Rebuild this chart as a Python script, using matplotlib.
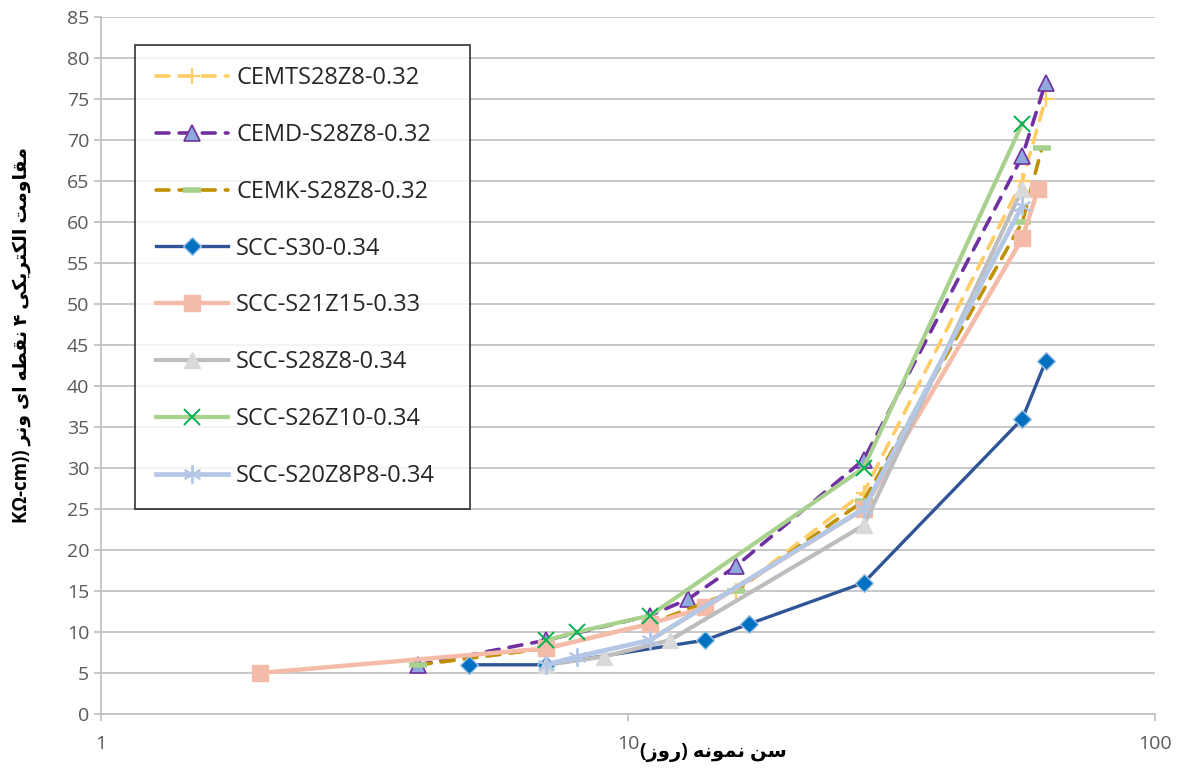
import matplotlib.pyplot as plt

# data (age in days, resistivity in KOhm-cm)
cemts_x = [4, 7, 11, 16, 28, 56, 62]
cemts_y = [6, 8, 11, 15, 27, 65, 75]
cemd_x = [4, 7, 11, 13, 16, 28, 56, 62]
cemd_y = [6, 9, 12, 14, 18, 31, 68, 77]
cemk_x = [4, 7, 11, 16, 28, 56, 61]
cemk_y = [6, 8, 11, 15, 26, 60, 69]
s30_x = [5, 7, 14, 17, 28, 56, 62]
s30_y = [6, 6, 9, 11, 16, 36, 43]
s21_x = [2, 7, 11, 14, 28, 56, 60]
s21_y = [5, 8, 11, 13, 25, 58, 64]
s28_x = [7, 9, 12, 28, 56]
s28_y = [6, 7, 9, 23, 64]
s26_x = [7, 8, 11, 28, 56]
s26_y = [9, 10, 12, 30, 72]
s20_x = [7, 8, 11, 28, 56]
s20_y = [6, 7, 9, 25, 62]

labels = ['CEMTS28Z8-0.32', 'CEMD-S28Z8-0.32', 'CEMK-S28Z8-0.32', 'SCC-S30-0.34',
          'SCC-S21Z15-0.33', 'SCC-S28Z8-0.34', 'SCC-S26Z10-0.34', 'SCC-S20Z8P8-0.34']

y_text = 'مقاومت الکتریکی ۴ نقطه ای ونر'
x_text = 'سن نمونه'
x_unit = 'روز'

# simple arabic/persian shaping (isolated, final, initial, medial)
FORMS = {
    'ا': ('\uFE8D', '\uFE8E', None, None),
    'ت': ('\uFE95', '\uFE96', '\uFE97', '\uFE98'),
    'ر': ('\uFEAD', '\uFEAE', None, None),
    'ز': ('\uFEAF', '\uFEB0', None, None),
    'س': ('\uFEB1', '\uFEB2', '\uFEB3', '\uFEB4'),
    'ط': ('\uFEC1', '\uFEC2', '\uFEC3', '\uFEC4'),
    'ق': ('\uFED5', '\uFED6', '\uFED7', '\uFED8'),
    'ک': ('\uFB8E', '\uFB8F', '\uFB90', '\uFB91'),
    'ل': ('\uFEDD', '\uFEDE', '\uFEDF', '\uFEE0'),
    'م': ('\uFEE1', '\uFEE2', '\uFEE3', '\uFEE4'),
    'ن': ('\uFEE5', '\uFEE6', '\uFEE7', '\uFEE8'),
    'ه': ('\uFEE9', '\uFEEA', '\uFEEB', '\uFEEC'),
    'و': ('\uFEED', '\uFEEE', None, None),
    'ی': ('\uFBFC', '\uFBFD', '\uFBFE', '\uFBFF'),
}


def shape(word):
    out = []
    for i, ch in enumerate(word):
        if ch not in FORMS:
            out.append(ch)
            continue
        prev = word[i - 1] if i > 0 else None
        nxt = word[i + 1] if i + 1 < len(word) else None
        iso, fin, ini, med = FORMS[ch]
        jp = prev in FORMS and FORMS[prev][2] is not None
        jn = nxt in FORMS and ini is not None
        if jp and jn:
            out.append(med)
        elif jp:
            out.append(fin)
        elif jn:
            out.append(ini)
        else:
            out.append(iso)
    return ''.join(out)[::-1]


def rtl(text):
    return ' '.join(shape(w) for w in reversed(text.split()))


plt.rcParams['font.family'] = ['Open Sans', 'DejaVu Sans']

fig = plt.figure(figsize=(11.78, 7.7), dpi=100)
ax = fig.add_axes([101 / 1178, 1 - 714 / 770, 1054 / 1178, 697 / 770])

lw = 2.6
dash = (3.6, 2.8)
ax.plot(cemts_x, cemts_y, color='#FFCC66', lw=lw, dashes=dash, dash_capstyle='round',
        marker='+', ms=12, mew=1.6, mec='#FFCC66', label=labels[0])
ax.plot(cemd_x, cemd_y, color='#7030A0', lw=lw, dashes=dash, dash_capstyle='round',
        marker='^', ms=11, mfc='#8EA9DB', mec='#7030A0', mew=1.2, label=labels[1])
ax.plot(cemk_x, cemk_y, color='#BF9000', lw=lw, dashes=dash, dash_capstyle='round',
        marker='_', ms=13, mew=4, mec='#A9D18E', label=labels[2])
ax.plot(s30_x, s30_y, color='#2F5597', lw=2.4, marker='D', ms=9,
        mfc='#0070C0', mec='#9DC3E6', mew=1, label=labels[3])
ax.plot(s21_x, s21_y, color='#F4BCA8', lw=3.2, marker='s', ms=11,
        mfc='#F4BCA8', mec='#F4BCA8', label=labels[4])
ax.plot(s28_x, s28_y, color='#BDBDBD', lw=3.0, marker='^', ms=11,
        mfc='#D9D9D9', mec='#D9D9D9', label=labels[5])
ax.plot(s26_x, s26_y, color='#A9D18E', lw=3.0, marker='x', ms=11,
        mec='#00B050', mew=1.4, label=labels[6])
ax.plot(s20_x, s20_y, color='#B4C7E7', lw=3.4, marker=(6, 2, 0), ms=13,
        mec='#B4C7E7', mew=1.4, label=labels[7])
# the 11 -> 28 day segment of the last series is drawn in yellow in the source
ax.plot(s20_x[2:4], s20_y[2:4], color='#FFD966', lw=3.4, zorder=1.9)

ax.set_xscale('log')
ax.set_xlim(1, 100)
ax.set_ylim(0, 85)
ax.set_yticks(range(0, 86, 5))
ax.set_xticks([1, 10, 100])
ax.set_xticklabels(['1', '10', '100'])
ax.xaxis.set_minor_locator(plt.NullLocator())
ax.grid(axis='y', color='#BFBFBF', lw=1.2)
ax.set_axisbelow(True)
for s in ['top', 'right']:
    ax.spines[s].set_visible(False)
for s in ['left', 'bottom']:
    ax.spines[s].set_color('#BFBFBF')
    ax.spines[s].set_linewidth(1.2)
ax.tick_params(axis='both', colors='#BFBFBF', labelcolor='#595959',
               labelsize=14, length=5, width=1.2)
ax.tick_params(axis='x', pad=10)

leg = ax.legend(loc='upper left', bbox_to_anchor=(0.032, 0.96, 0.318, 0.0),
                mode='expand', borderaxespad=0, fontsize=17, handlelength=3.05,
                labelspacing=1.39, borderpad=0.9, handletextpad=0.35,
                frameon=True, fancybox=False, edgecolor='black')
leg.get_frame().set_linewidth(1.2)
for t in leg.get_texts():
    t.set_color('#262626')

fig.text(22 / 1178, 1 - 335 / 770, 'KΩ-cm)) ' + rtl(y_text), rotation=90,
         ha='center', va='center', fontsize=13.5, fontweight='bold')
fig.text(713 / 1178, 1 - 752 / 770, '(' + shape(x_unit) + ') ' + rtl(x_text),
         ha='center', va='center', fontsize=14, fontweight='bold')

fig.savefig('out.png', dpi=100)
